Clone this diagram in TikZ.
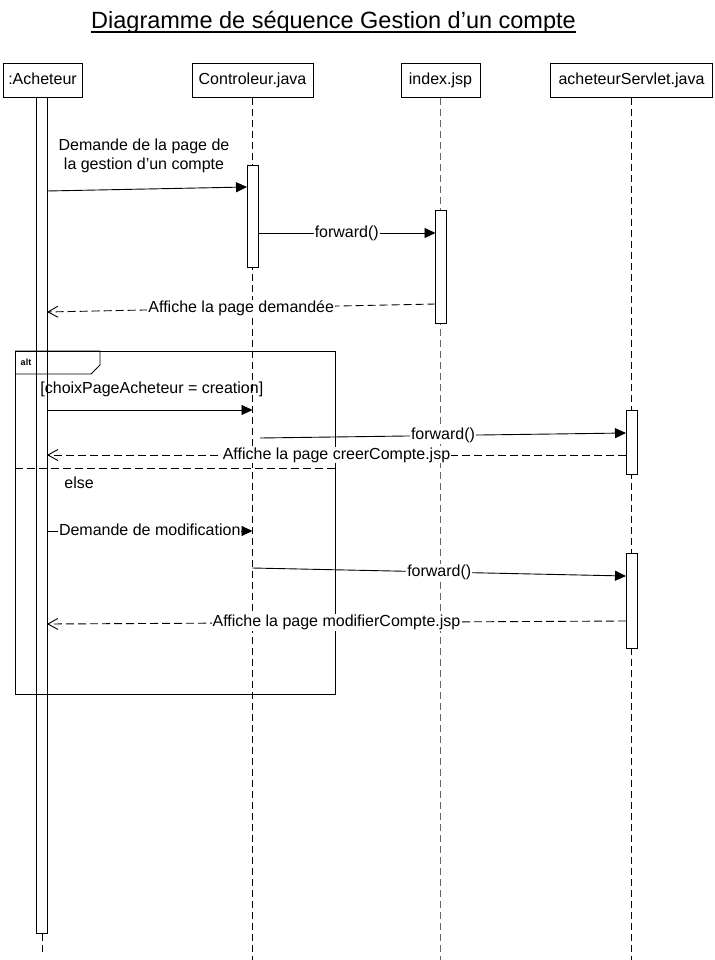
\documentclass[tikz,border=0pt]{standalone}
\usepackage{fontspec}
\setmainfont{Liberation Sans}
\usetikzlibrary{arrows.meta}
\begin{document}
\begin{tikzpicture}[x=1pt,y=-1pt,
  line width=0.9pt,
  every node/.style={font=\fontsize{16}{19}\selectfont, inner sep=0pt},
  headbox/.style={draw, anchor=north, minimum height=34pt, text height=11.5pt, text depth=3.4pt},
  lifeline/.style={dash pattern=on 7pt off 4pt, line width=0.8pt},
  actbar/.style={draw, fill=white, anchor=north, minimum width=11pt},
  call/.style={-{Triangle[length=11pt,width=10pt]}},
  reply/.style={dash pattern=on 8pt off 4pt, -{Straight Barb[length=10pt,width=11pt]}},
  lbl/.style={fill=white, inner sep=1pt, text height=11.5pt, text depth=3.4pt},
  framebox/.style={draw, anchor=north west},
]
\useasboundingbox (0,0) rectangle (714,960);

% title
\node[font=\fontsize{23.5}{28}\selectfont, anchor=base] (title) at (333.5,29) {Diagramme de séquence Gestion d’un compte};
\draw[line width=1.3pt] ([yshift=-3pt]title.base west) -- ([yshift=-3pt]title.base east);

% participants
\node[headbox, minimum width=79pt]  (hA) at (42.5,63)  {:Acheteur};
\node[headbox, minimum width=121pt] (hC) at (252.5,63) {Controleur.java};
\node[headbox, minimum width=79pt]  (hI) at (440.5,63) {index.jsp};
\node[headbox, minimum width=162pt] (hS) at (631.5,63) {acheteurServlet.java};

% lifelines
\coordinate (eA) at (42.5,953);
\coordinate (eC) at (252.5,960);
\coordinate (eI) at (440.5,960);
\coordinate (eS) at (631.5,960);
\draw[lifeline] (hA.south) -- (eA);
\draw[lifeline] (hC.south) -- (eC);
\draw[lifeline, black!60] (hI.south) -- (eI);
\draw[lifeline] (hS.south) -- (eS);

% activation bars
\node[actbar, minimum height=836pt] (aA)  at (41.5,97)  {};
\node[actbar, minimum height=102pt] (aC)  at (252.5,165) {};
\node[actbar, minimum height=113pt] (aI)  at (441,210)  {};
\node[actbar, minimum height=64pt]  (aS1) at (631.5,410) {};
\node[actbar, minimum height=95pt]  (aS2) at (631.5,553) {};

% alt fragment
\node[framebox, minimum width=320pt, minimum height=343pt] (alt) at (15,351) {};
\draw (alt.north west) -- ++(85,0) -- ++(0,14) -- ++(-9,9) -- ++(-76,0);
\node[font=\bfseries\fontsize{9}{11}\selectfont] (altlbl) at (26,362) {alt};
\coordinate (sepL) at (15,468);
\coordinate (sepR) at (335,468);
\draw[dash pattern=on 8pt off 4pt] (sepL) -- (sepR);
\node[anchor=west] (guard) at (40,389) {[choixPageAcheteur = creation]};
\node[anchor=west] (elsel) at (64,483) {else};

% messages
\coordinate (m1a) at (47,191);   \coordinate (m1b) at (247,187);
\coordinate (f1a) at (258,233);  \coordinate (f1b) at (435.5,233);
\coordinate (r1a) at (435.5,304); \coordinate (r1b) at (47,312);
\coordinate (g1a) at (47,410);   \coordinate (g1b) at (252.5,410);
\coordinate (f2a) at (260,438);  \coordinate (f2b) at (626,433);
\coordinate (r2a) at (626,455);  \coordinate (r2b) at (47,455);
\coordinate (m2a) at (47,531);   \coordinate (m2b) at (252.5,531);
\coordinate (f3a) at (252.5,568); \coordinate (f3b) at (626,576);
\coordinate (r3a) at (626,621);  \coordinate (r3b) at (47,624);

\draw[call] (m1a) -- (m1b);
\node[align=center] (m1lbl) at (144,156) {Demande de la page de\\la gestion d’un compte};
\draw[call] (f1a) -- node[lbl] (f1lbl) {forward()} (f1b);
\draw[reply] (r1a) -- node[lbl] (r1lbl) {Affiche la page demandée} (r1b);
\draw[call] (g1a) -- (g1b);
\draw[call] (f2a) -- node[lbl] (f2lbl) {forward()} (f2b);
\draw[reply] (r2a) -- node[lbl] (r2lbl) {Affiche la page creerCompte.jsp} (r2b);
\draw[call] (m2a) -- node[lbl] (m2lbl) {Demande de modification} (m2b);
\draw[call] (f3a) -- node[lbl] (f3lbl) {forward()} (f3b);
\draw[reply] (r3a) -- node[lbl] (r3lbl) {Affiche la page modifierCompte.jsp} (r3b);
\end{tikzpicture}
\end{document}
